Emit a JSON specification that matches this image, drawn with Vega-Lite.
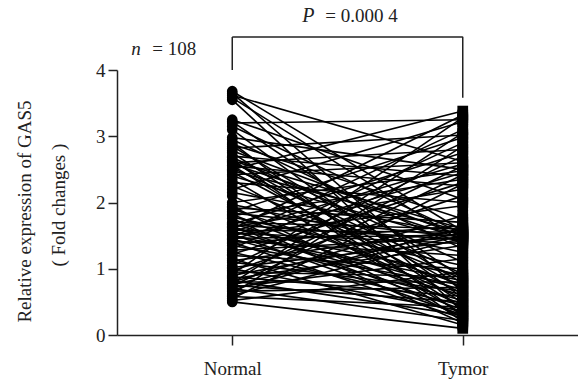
{
  "$schema": "https://vega.github.io/schema/vega-lite/v6.json",
  "width": 461,
  "height": 265,
  "autosize": {"type": "none"},
  "padding": {"left": 117, "top": 70, "right": 0, "bottom": 51},
  "background": "white",
  "config": {
    "view": {"stroke": null},
    "font": "Liberation Serif",
    "text": {"font": "Liberation Serif"}
  },
  "datasets": {
    "pairs": [
      {"id":1,"Normal":3.68,"Tymor":1.57},{"id":2,"Normal":3.65,"Tymor":0.65},{"id":3,"Normal":3.62,"Tymor":2.62},
      {"id":4,"Normal":3.58,"Tymor":1.41},{"id":5,"Normal":3.55,"Tymor":0.35},{"id":6,"Normal":3.25,"Tymor":2.05},
      {"id":7,"Normal":3.22,"Tymor":0.86},{"id":8,"Normal":3.2,"Tymor":3.25},{"id":9,"Normal":3.15,"Tymor":1.53},
      {"id":10,"Normal":3.1,"Tymor":0.56},{"id":11,"Normal":2.98,"Tymor":2.5},{"id":12,"Normal":2.95,"Tymor":1.3},
      {"id":13,"Normal":2.9,"Tymor":0.28},{"id":14,"Normal":2.88,"Tymor":1.75},{"id":15,"Normal":2.85,"Tymor":0.78},
      {"id":16,"Normal":2.82,"Tymor":3.02},{"id":17,"Normal":2.78,"Tymor":1.49},{"id":18,"Normal":2.75,"Tymor":0.48},
      {"id":19,"Normal":2.7,"Tymor":2.4},{"id":20,"Normal":2.68,"Tymor":1.1},{"id":21,"Normal":2.65,"Tymor":0.2},
      {"id":22,"Normal":2.63,"Tymor":1.6},{"id":23,"Normal":2.62,"Tymor":0.7},{"id":24,"Normal":2.6,"Tymor":2.8},
      {"id":25,"Normal":2.58,"Tymor":1.45},{"id":26,"Normal":2.56,"Tymor":0.4},{"id":27,"Normal":2.55,"Tymor":2.25},
      {"id":28,"Normal":2.52,"Tymor":0.92},{"id":29,"Normal":2.5,"Tymor":3.38},{"id":30,"Normal":2.48,"Tymor":1.56},
      {"id":31,"Normal":2.46,"Tymor":0.62},{"id":32,"Normal":2.42,"Tymor":2.6},{"id":33,"Normal":2.4,"Tymor":1.4},
      {"id":34,"Normal":2.35,"Tymor":0.32},{"id":35,"Normal":2.3,"Tymor":2.0},{"id":36,"Normal":2.25,"Tymor":0.85},
      {"id":37,"Normal":2.2,"Tymor":3.22},{"id":38,"Normal":2.15,"Tymor":1.52},{"id":39,"Normal":2.1,"Tymor":0.55},
      {"id":40,"Normal":2.0,"Tymor":2.48},{"id":41,"Normal":1.97,"Tymor":1.25},{"id":42,"Normal":1.94,"Tymor":0.26},
      {"id":43,"Normal":1.92,"Tymor":1.7},{"id":44,"Normal":1.9,"Tymor":0.76},{"id":45,"Normal":1.86,"Tymor":2.98},
      {"id":46,"Normal":1.84,"Tymor":1.48},{"id":47,"Normal":1.82,"Tymor":0.46},{"id":48,"Normal":1.8,"Tymor":2.35},
      {"id":49,"Normal":1.78,"Tymor":1.05},{"id":50,"Normal":1.76,"Tymor":0.18},{"id":51,"Normal":1.7,"Tymor":1.6},
      {"id":52,"Normal":1.68,"Tymor":0.68},{"id":53,"Normal":1.67,"Tymor":2.75},{"id":54,"Normal":1.66,"Tymor":1.44},
      {"id":55,"Normal":1.64,"Tymor":0.38},{"id":56,"Normal":1.63,"Tymor":2.2},{"id":57,"Normal":1.62,"Tymor":0.9},
      {"id":58,"Normal":1.6,"Tymor":3.32},{"id":59,"Normal":1.58,"Tymor":1.55},{"id":60,"Normal":1.57,"Tymor":0.6},
      {"id":61,"Normal":1.56,"Tymor":2.58},{"id":62,"Normal":1.54,"Tymor":1.38},{"id":63,"Normal":1.52,"Tymor":0.3},
      {"id":64,"Normal":1.51,"Tymor":1.95},{"id":65,"Normal":1.5,"Tymor":0.82},{"id":66,"Normal":1.48,"Tymor":3.1},
      {"id":67,"Normal":1.46,"Tymor":1.51},{"id":68,"Normal":1.45,"Tymor":0.52},{"id":69,"Normal":1.44,"Tymor":2.45},
      {"id":70,"Normal":1.42,"Tymor":1.2},{"id":71,"Normal":1.4,"Tymor":0.25},{"id":72,"Normal":1.38,"Tymor":1.65},
      {"id":73,"Normal":1.35,"Tymor":0.75},{"id":74,"Normal":1.3,"Tymor":2.9},{"id":75,"Normal":1.28,"Tymor":1.47},
      {"id":76,"Normal":1.25,"Tymor":0.45},{"id":77,"Normal":1.22,"Tymor":2.3},{"id":78,"Normal":1.2,"Tymor":1.0},
      {"id":79,"Normal":1.15,"Tymor":0.15},{"id":80,"Normal":1.12,"Tymor":1.58},{"id":81,"Normal":1.1,"Tymor":0.66},
      {"id":82,"Normal":1.05,"Tymor":2.7},{"id":83,"Normal":1.02,"Tymor":1.42},{"id":84,"Normal":1.0,"Tymor":0.36},
      {"id":85,"Normal":0.97,"Tymor":2.1},{"id":86,"Normal":0.95,"Tymor":0.88},{"id":87,"Normal":0.92,"Tymor":3.28},
      {"id":88,"Normal":0.9,"Tymor":1.54},{"id":89,"Normal":0.88,"Tymor":0.58},{"id":90,"Normal":0.87,"Tymor":2.55},
      {"id":91,"Normal":0.85,"Tymor":1.35},{"id":92,"Normal":0.82,"Tymor":0.3},{"id":93,"Normal":0.8,"Tymor":1.8},
      {"id":94,"Normal":0.8,"Tymor":0.8},{"id":95,"Normal":0.78,"Tymor":3.05},{"id":96,"Normal":0.76,"Tymor":1.5},
      {"id":97,"Normal":0.75,"Tymor":0.5},{"id":98,"Normal":0.74,"Tymor":2.42},{"id":99,"Normal":0.72,"Tymor":1.15},
      {"id":100,"Normal":0.7,"Tymor":0.22},{"id":101,"Normal":0.68,"Tymor":1.62},{"id":102,"Normal":0.66,"Tymor":0.72},
      {"id":103,"Normal":0.62,"Tymor":2.85},{"id":104,"Normal":0.6,"Tymor":1.46},{"id":105,"Normal":0.58,"Tymor":0.42},
      {"id":106,"Normal":0.55,"Tymor":2.28},{"id":107,"Normal":0.52,"Tymor":0.95},{"id":108,"Normal":0.5,"Tymor":0.1}
    ],
    "bracket": [
      {"x":"Normal","x2":"Tymor","y":4.5,"y2":4.5},
      {"x":"Normal","x2":"Normal","y":4.0,"y2":4.5},
      {"x":"Tymor","x2":"Tymor","y":3.58,"y2":4.5}
    ]
  },
  "layer": [
    {
      "data": {"name": "pairs"},
      "transform": [{"fold": ["Normal", "Tymor"], "as": ["group", "value"]}],
      "mark": {"type": "line", "color": "black", "strokeWidth": 1.6},
      "encoding": {
        "x": {"field": "group", "type": "nominal", "sort": null,
              "scale": {"type": "point", "domain": ["Normal", "Tymor"], "padding": 0.5},
              "axis": {"title": null, "labelAngle": 0, "tickSize": 10, "labelPadding": 14, "grid": false,
                       "labelFont": "Liberation Serif", "labelFontSize": 19, "labelColor": "#222",
                       "domainColor": "#222", "tickColor": "#222", "domainWidth": 1.5, "tickWidth": 1.5}},
        "y": {"field": "value", "type": "quantitative",
              "scale": {"domain": [0, 4], "nice": false, "zero": true},
              "axis": {"values": [0, 1, 2, 3, 4], "format": "d", "tickSize": 9, "labelPadding": 3, "grid": false,
                       "labelFont": "Liberation Serif", "labelFontSize": 19, "labelColor": "#222",
                       "domainColor": "#222", "tickColor": "#222", "domainWidth": 1.5, "tickWidth": 1.5,
                       "title": "Relative expression of GAS5",
                       "titleFont": "Liberation Serif", "titleFontSize": 19, "titleFontWeight": "normal", "titleColor": "#222",
                       "titleAlign": "center", "titleAnchor": "middle", "titleY": 141, "titleX": -93, "titleBaseline": "middle", "titleAngle": -90}},
        "detail": {"field": "id", "type": "nominal"}
      }
    },
    {
      "data": {"name": "pairs"},
      "transform": [{"fold": ["Normal", "Tymor"], "as": ["group", "value"]}],
      "mark": {"type": "point", "filled": true, "color": "black", "opacity": 1, "size": 115},
      "encoding": {
        "x": {"field": "group", "type": "nominal"},
        "y": {"field": "value", "type": "quantitative"},
        "shape": {"field": "group", "type": "nominal",
                  "scale": {"domain": ["Normal", "Tymor"], "range": ["circle", "square"]}, "legend": null}
      }
    },
    {
      "data": {"name": "bracket"},
      "mark": {"type": "rule", "color": "#222", "strokeWidth": 1.5},
      "encoding": {
        "x": {"field": "x", "type": "nominal"},
        "x2": {"field": "x2"},
        "y": {"field": "y", "type": "quantitative"},
        "y2": {"field": "y2"}
      }
    },
    {
      "data": {"values": [{"x": "Normal", "y": 1.96, "label": "( Fold changes )"}]},
      "mark": {"type": "text", "font": "Liberation Serif", "fontSize": 19, "angle": 270, "align": "center", "baseline": "middle", "dy": -173, "color": "#222"},
      "encoding": {"x": {"field": "x", "type": "nominal"}, "y": {"field": "y", "type": "quantitative"}, "text": {"field": "label"}}
    },
    {
      "data": {"values": [{"x": "Normal", "y": 4.72, "label": "P"}]},
      "mark": {"type": "text", "font": "Liberation Serif", "fontSize": 20, "fontStyle": "italic", "align": "left", "baseline": "alphabetic", "dx": 70, "color": "#222"},
      "encoding": {"x": {"field": "x", "type": "nominal"}, "y": {"field": "y", "type": "quantitative"}, "text": {"field": "label"}}
    },
    {
      "data": {"values": [{"x": "Tymor", "y": 4.72, "label": "= 0.000 4"}]},
      "mark": {"type": "text", "font": "Liberation Serif", "fontSize": 19, "align": "right", "baseline": "alphabetic", "dx": -65, "color": "#222"},
      "encoding": {"x": {"field": "x", "type": "nominal"}, "y": {"field": "y", "type": "quantitative"}, "text": {"field": "label"}}
    },
    {
      "data": {"values": [{"x": "Normal", "y": 4.23, "label": "n"}]},
      "mark": {"type": "text", "font": "Liberation Serif", "fontSize": 19, "fontStyle": "italic", "align": "left", "baseline": "alphabetic", "dx": -101, "color": "#222"},
      "encoding": {"x": {"field": "x", "type": "nominal"}, "y": {"field": "y", "type": "quantitative"}, "text": {"field": "label"}}
    },
    {
      "data": {"values": [{"x": "Normal", "y": 4.23, "label": "= 108"}]},
      "mark": {"type": "text", "font": "Liberation Serif", "fontSize": 19, "align": "right", "baseline": "alphabetic", "dx": -36, "color": "#222"},
      "encoding": {"x": {"field": "x", "type": "nominal"}, "y": {"field": "y", "type": "quantitative"}, "text": {"field": "label"}}
    }
  ]
}
